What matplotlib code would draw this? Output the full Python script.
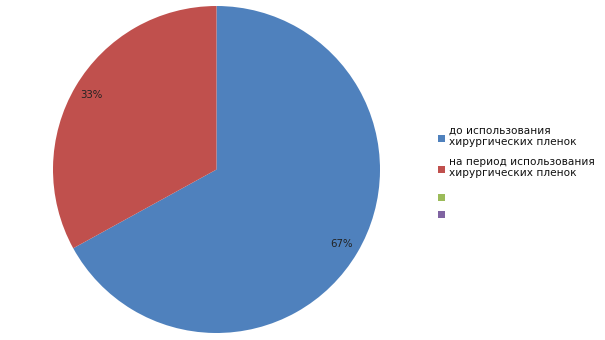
import matplotlib
matplotlib.use("Agg")
import matplotlib.pyplot as plt
from matplotlib.patches import Rectangle

categories = ["до использования\nхирургических пленок",
              "на период использования\nхирургических пленок",
              "", ""]
values = [67, 33]
colors = ["#4F81BD", "#C0504D", "#9BBB59", "#8064A2"]

W, H = 605, 340
fig = plt.figure(figsize=(W / 100, H / 100), dpi=100)
fig.patch.set_facecolor("white")

cx, cy, r = 216.5, 169.5, 163.5
ax = fig.add_axes([(cx - r) / W, (H - cy - r) / H, 2 * r / W, 2 * r / H])
ax.pie(values, colors=colors[:2], startangle=90, counterclock=False,
       autopct=lambda p: f"{p:.0f}%", pctdistance=0.89,
       textprops=dict(fontsize=7.3, color="#222222", family="DejaVu Sans"),
       wedgeprops=dict(linewidth=0))
ax.set_xlim(-1, 1)
ax.set_ylim(-1, 1)
ax.set_aspect("equal")
ax.axis("off")

# legend
sq = 7
entries_y = [138.5, 169.5, 197.5, 214.5]  # centers of squares (px from top)
text_top = [126, 157]
for i, (lab, col) in enumerate(zip(categories, colors)):
    yc = entries_y[i]
    fig.patches.append(Rectangle((438 / W, (H - yc - sq / 2) / H), sq / W, sq / H,
                                 transform=fig.transFigure, facecolor=col,
                                 edgecolor="none"))
    if lab:
        fig.text(449 / W, (H - text_top[i]) / H, lab, fontsize=7.6,
                 family="DejaVu Sans", color="#111111", va="top", ha="left",
                 linespacing=1.1)

fig.savefig("out.png", dpi=100, facecolor="white")
